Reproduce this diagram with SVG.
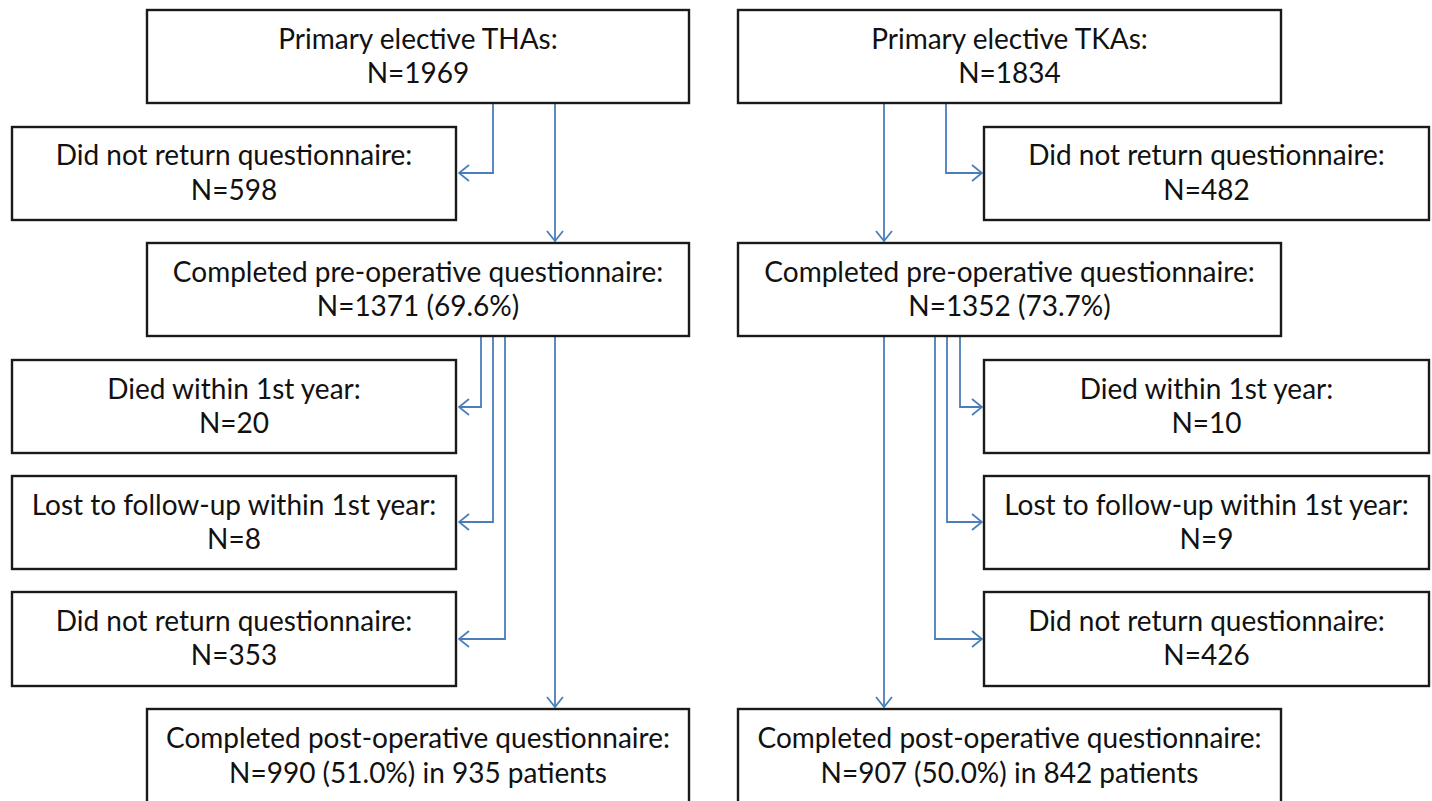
<svg xmlns="http://www.w3.org/2000/svg" width="1432" height="801" viewBox="0 0 1432 801">
<defs>
<marker id="arr" viewBox="0 0 12 18" refX="11" refY="9" markerWidth="12" markerHeight="18" markerUnits="userSpaceOnUse" orient="auto">
<path d="M1,1 L11,9 L1,17" fill="none" stroke="#4a7ebb" stroke-width="1.8"/>
</marker>
<style>
.box{fill:#fff;stroke:#1a1a1a;stroke-width:2.4}
.t{font-family:Lato,"Open Sans","Liberation Sans",sans-serif;font-size:28px;fill:#111;text-anchor:middle}
.c{fill:none;stroke:#4a7ebb;stroke-width:1.8;marker-end:url(#arr)}
</style>
</defs>
<rect width="1432" height="801" fill="#fff"/>
<g id="connectors">
<polyline class="c" points="493,103 493,173 459,173"/>
<polyline class="c" points="555,103 555,241"/>
<polyline class="c" points="481,337 481,407 459,407"/>
<polyline class="c" points="493,337 493,522 459,522"/>
<polyline class="c" points="505,337 505,639 459,639"/>
<polyline class="c" points="555,337 555,707"/>
<polyline class="c" points="946,103 946,173 982,173"/>
<polyline class="c" points="884,103 884,241"/>
<polyline class="c" points="960,337 960,407 982,407"/>
<polyline class="c" points="947,337 947,522 982,522"/>
<polyline class="c" points="935,337 935,639 982,639"/>
<polyline class="c" points="884,337 884,707"/>
</g>
<g id="tha">
<rect class="box" x="147" y="10" width="542" height="93"/>
<text class="t" x="418" y="49">Primary elective THAs:</text>
<text class="t" x="418" y="83">N=1969</text>
</g>
<g id="tha_dnr1">
<rect class="box" x="12" y="127" width="444" height="93"/>
<text class="t" x="234" y="165">Did not return questionnaire:</text>
<text class="t" x="234" y="200">N=598</text>
</g>
<g id="tha_pre">
<rect class="box" x="147" y="243" width="542" height="93"/>
<text class="t" x="418" y="282">Completed pre-operative questionnaire:</text>
<text class="t" x="418" y="316">N=1371 (69.6%)</text>
</g>
<g id="tha_died">
<rect class="box" x="12" y="360" width="444" height="93"/>
<text class="t" x="234" y="399">Died within 1st year:</text>
<text class="t" x="234" y="433">N=20</text>
</g>
<g id="tha_lost">
<rect class="box" x="12" y="476" width="444" height="93"/>
<text class="t" x="234" y="515">Lost to follow-up within 1st year:</text>
<text class="t" x="234" y="549">N=8</text>
</g>
<g id="tha_dnr2">
<rect class="box" x="12" y="592" width="444" height="94"/>
<text class="t" x="234" y="631">Did not return questionnaire:</text>
<text class="t" x="234" y="665">N=353</text>
</g>
<g id="tha_post">
<rect class="box" x="147" y="709" width="542" height="100"/>
<text class="t" x="418" y="748">Completed post-operative questionnaire:</text>
<text class="t" x="418" y="783">N=990 (51.0%) in 935 patients</text>
</g>
<g id="tka">
<rect class="box" x="738" y="10" width="543" height="93"/>
<text class="t" x="1009.5" y="49">Primary elective TKAs:</text>
<text class="t" x="1009.5" y="83">N=1834</text>
</g>
<g id="tka_dnr1">
<rect class="box" x="984" y="127" width="445" height="93"/>
<text class="t" x="1206.5" y="165">Did not return questionnaire:</text>
<text class="t" x="1206.5" y="200">N=482</text>
</g>
<g id="tka_pre">
<rect class="box" x="738" y="243" width="543" height="93"/>
<text class="t" x="1009.5" y="282">Completed pre-operative questionnaire:</text>
<text class="t" x="1009.5" y="316">N=1352 (73.7%)</text>
</g>
<g id="tka_died">
<rect class="box" x="984" y="360" width="445" height="93"/>
<text class="t" x="1206.5" y="399">Died within 1st year:</text>
<text class="t" x="1206.5" y="433">N=10</text>
</g>
<g id="tka_lost">
<rect class="box" x="984" y="476" width="445" height="93"/>
<text class="t" x="1206.5" y="515">Lost to follow-up within 1st year:</text>
<text class="t" x="1206.5" y="549">N=9</text>
</g>
<g id="tka_dnr2">
<rect class="box" x="984" y="592" width="445" height="94"/>
<text class="t" x="1206.5" y="631">Did not return questionnaire:</text>
<text class="t" x="1206.5" y="665">N=426</text>
</g>
<g id="tka_post">
<rect class="box" x="738" y="709" width="543" height="100"/>
<text class="t" x="1009.5" y="748">Completed post-operative questionnaire:</text>
<text class="t" x="1009.5" y="783">N=907 (50.0%) in 842 patients</text>
</g>
</svg>
